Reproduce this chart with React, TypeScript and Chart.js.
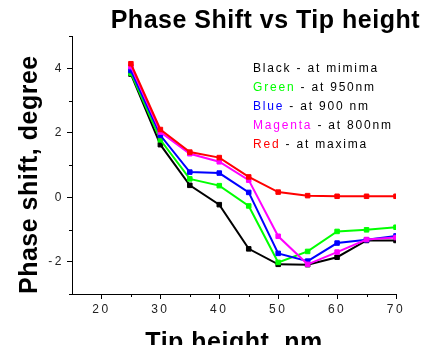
import React, { useEffect, useRef } from 'react';
import { Chart, registerables } from 'chart.js';

Chart.register(...registerables);

// ---- data ----
const tipHeights = [25, 30, 35, 40, 45, 50, 55, 60, 65, 70];
const redMaxima = [4.14, 2.1, 1.4, 1.23, 0.63, 0.16, 0.05, 0.03, 0.03, 0.03];
const magenta800 = [4.05, 2.02, 1.35, 1.1, 0.53, -1.21, -2.08, -1.7, -1.31, -1.25];
const blue900 = [3.93, 1.92, 0.78, 0.75, 0.15, -1.74, -1.98, -1.42, -1.32, -1.2];
const green950 = [3.85, 1.78, 0.57, 0.36, -0.27, -2.02, -1.68, -1.06, -1.01, -0.93];
const blackMinima = [3.82, 1.63, 0.37, -0.23, -1.6, -2.08, -2.09, -1.86, -1.34, -1.34];

const seriesNames = ['Red', 'Magenta', 'Blue', 'Green', 'Black'];
const seriesColors = ['#ff0000', '#ff00ff', '#0000ff', '#00ff00', '#000000'];
const seriesValues = [redMaxima, magenta800, blue900, green950, blackMinima];

const legendWords = ['Black', 'Green', 'Blue', 'Magenta', 'Red'];
const legendRest = [' - at mimima', ' - at 950nm', ' - at 900 nm', ' - at 800nm', ' - at maxima'];
const legendColors = ['#000000', '#00ff00', '#0000ff', '#ff00ff', '#ff0000'];

const xMajorTicks = [20, 30, 40, 50, 60, 70];
const xMinorTicks = [25, 35, 45, 55, 65];
const yMajorTicks = [-2, 0, 2, 4];
const yMinorTicks = [-3, -1, 1, 3, 5];

const titleText = 'Phase Shift vs Tip height';
const xTitle = 'Tip height, nm';
const yTitle = 'Phase shift, degree';

const FAMILY = "'Liberation Sans', Arial, sans-serif";

const spacingPlugin = {
  id: 'spacing',
  beforeDraw(chart: any) {
    chart.ctx.letterSpacing = '0.5px';
  },
  afterDatasetsDraw(chart: any) {
    chart.ctx.letterSpacing = '2.5px';
  },
};

const minorTicksPlugin = {
  id: 'minorTicks',
  afterDraw(chart: any) {
    const { ctx, chartArea, scales } = chart;
    ctx.save();
    ctx.strokeStyle = '#000';
    ctx.lineWidth = 1;
    ctx.beginPath();
    xMinorTicks.forEach((v) => {
      const px = Math.round(scales.x.getPixelForValue(v)) + 0.5;
      ctx.moveTo(px, chartArea.bottom);
      ctx.lineTo(px, chartArea.bottom + 3);
    });
    yMinorTicks.forEach((v) => {
      const py = Math.round(scales.y.getPixelForValue(v)) + 0.5;
      ctx.moveTo(chartArea.left - 3, py);
      ctx.lineTo(chartArea.left, py);
    });
    ctx.stroke();
    ctx.restore();
  },
};

const legendPlugin = {
  id: 'textLegend',
  afterDraw(chart: any) {
    const { ctx } = chart;
    const opts = chart.options.plugins.textLegend;
    ctx.save();
    ctx.font = `12px ${FAMILY}`;
    ctx.letterSpacing = '1.8px';
    ctx.textAlign = 'left';
    ctx.textBaseline = 'alphabetic';
    legendWords.forEach((word, i) => {
      const y = opts.y + i * opts.step;
      ctx.fillStyle = legendColors[i];
      ctx.fillText(word, opts.x, y);
      const w = ctx.measureText(word).width;
      ctx.fillStyle = '#000';
      ctx.fillText(legendRest[i], opts.x + w, y);
    });
    ctx.restore();
  },
};

export default function App() {
  const canvasRef = useRef<HTMLCanvasElement | null>(null);

  useEffect(() => {
    const canvas = canvasRef.current;
    if (!canvas) return;
    const chart = new Chart(canvas, {
      type: 'line',
      data: {
        datasets: seriesNames.map((name, i) => ({
          label: name,
          data: tipHeights.map((x, j) => ({ x, y: seriesValues[i][j] })),
          borderColor: seriesColors[i],
          backgroundColor: seriesColors[i],
          borderWidth: 2,
          pointStyle: 'rect',
          pointRadius: 3.2,
          pointBorderWidth: 1,
          pointBorderColor: seriesColors[i],
          pointBackgroundColor: seriesColors[i],
          tension: 0,
          fill: false,
        })),
      },
      plugins: [spacingPlugin, minorTicksPlugin, legendPlugin],
      options: {
        responsive: false,
        animation: false,
        devicePixelRatio: 1,
        layout: { padding: { left: 0, top: 0, right: 6, bottom: 0 } },
        plugins: {
          legend: { display: false },
          tooltip: { enabled: false },
          title: {
            display: true,
            text: titleText,
            align: 'end',
            color: '#000',
            font: { family: FAMILY, size: 25, weight: 'bold', lineHeight: 1.2 },
            padding: { top: 6, bottom: 0 },
          },
          textLegend: { x: 253, y: 71.7, step: 19.15 },
        } as any,
        scales: {
          x: {
            type: 'linear',
            min: 15,
            max: 70,
            afterBuildTicks: (scale: any) => {
              scale.ticks = xMajorTicks.map((v) => ({ value: v }));
            },
            afterFit: (scale: any) => {
              scale.height = 66;
              scale.paddingRight = 30;
            },
            grid: { display: true, drawOnChartArea: false, drawTicks: true, tickLength: 5, tickColor: '#000' },
            border: { display: true, color: '#000', width: 1 },
            ticks: {
              z: 1,
              padding: 3,
              color: '#222',
              maxRotation: 0,
              font: { family: FAMILY, size: 12 },
              callback: (v: any) => String(v),
            },
            title: {
              display: true,
              text: xTitle,
              color: '#000',
              font: { family: FAMILY, size: 25, weight: 'bold', lineHeight: 1.2 },
              padding: { top: 0, bottom: 2 },
            },
          },
          y: {
            type: 'linear',
            min: -3,
            max: 5,
            afterBuildTicks: (scale: any) => {
              scale.ticks = yMajorTicks.map((v) => ({ value: v }));
            },
            afterFit: (scale: any) => {
              scale.width = 72;
            },
            grid: { display: true, drawOnChartArea: false, drawTicks: true, tickLength: 5, tickColor: '#000' },
            border: { display: true, color: '#000', width: 1 },
            ticks: {
              z: 1,
              padding: 3,
              color: '#222',
              font: { family: FAMILY, size: 12 },
              callback: (v: any) => String(v),
            },
            title: {
              display: true,
              text: yTitle,
              align: 'start',
              color: '#000',
              font: { family: FAMILY, size: 25, weight: 'bold', lineHeight: 1.2 },
              padding: { top: 15, bottom: 0 },
            },
          },
        },
      } as any,
    });
    return () => chart.destroy();
  }, []);

  return (
    <div
      style={{
        position: 'absolute',
        left: 0,
        top: 0,
        width: 426,
        height: 345,
        overflow: 'hidden',
        background: '#fff',
      }}
    >
      <canvas ref={canvasRef} width={426} height={360} style={{ width: 426, height: 360, display: 'block' }} />
    </div>
  );
}
